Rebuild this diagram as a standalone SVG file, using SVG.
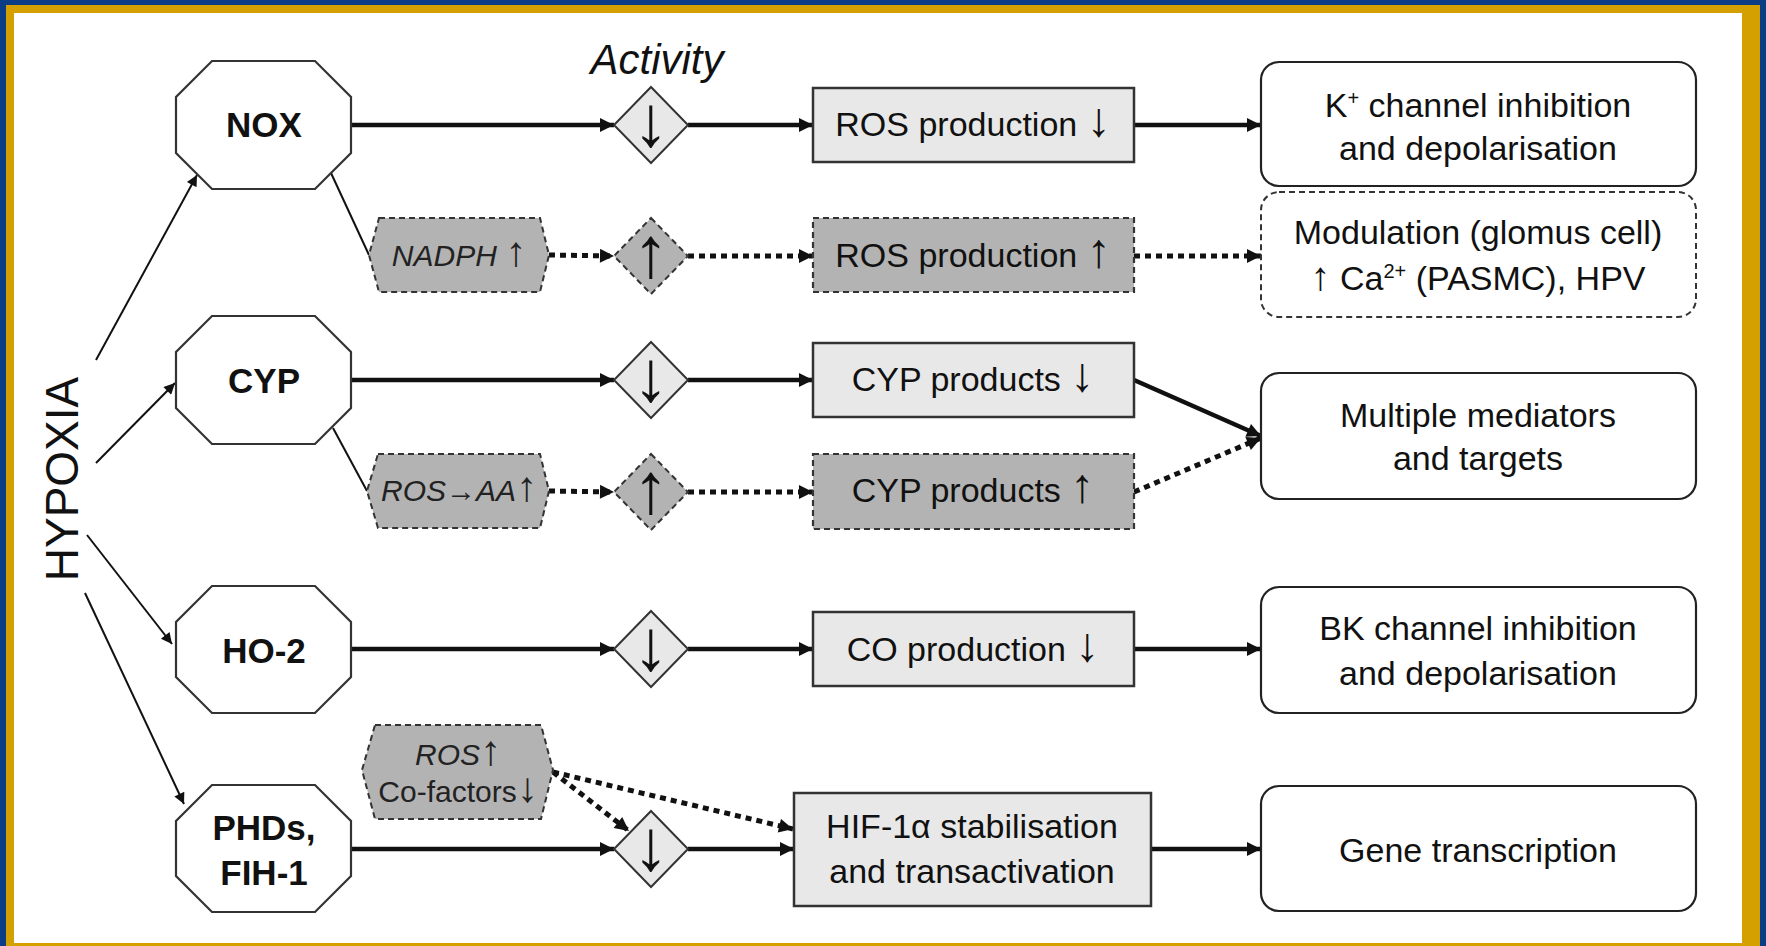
<svg xmlns="http://www.w3.org/2000/svg" width="1766" height="946" viewBox="0 0 1766 946">
<style>
text{font-family:"Liberation Sans",Arial,sans-serif;fill:#111}
.oct{fill:#fff;stroke:#333;stroke-width:2.2}
.lbl{font-weight:bold;font-size:35px;text-anchor:middle}
.dia{fill:#e8e8e8;stroke:#333;stroke-width:2}
.diad{fill:#b3b3b3;stroke:#333;stroke-width:2;stroke-dasharray:6 4}
.box{fill:#e8e8e8;stroke:#333;stroke-width:2.5}
.boxd{fill:#b3b3b3;stroke:#333;stroke-width:2.2;stroke-dasharray:6 4}
.rbox{fill:#fff;stroke:#222;stroke-width:2.2}
.rboxd{fill:#fff;stroke:#333;stroke-width:2;stroke-dasharray:6 4}
.hex{fill:#b3b3b3;stroke:#333;stroke-width:2;stroke-dasharray:6 4}
.mt{font-size:34px;text-anchor:middle}
.rt{font-size:34px;text-anchor:middle}
.gt{font-size:30px;text-anchor:middle;fill:#222}
.ar{font-size:48px}
.ar2{font-size:40px}
.gar{font-size:42px}
.sym{font-size:72px;text-anchor:middle}
.thick{stroke:#111;stroke-width:4.5;fill:none;marker-end:url(#ah)}
.dot{stroke:#111;stroke-width:5;fill:none;stroke-dasharray:6 5;marker-end:url(#ah)}
.thin{stroke:#111;stroke-width:2;fill:none}
.thina{stroke:#111;stroke-width:2;fill:none;marker-end:url(#ahs)}
</style>
<defs>
<marker id="ah" viewBox="0 0 10 10" refX="10" refY="5" markerWidth="17" markerHeight="14" markerUnits="userSpaceOnUse" orient="auto"><path d="M0,0 L10,5 L0,10 z" fill="#111"/></marker>
<marker id="ahs" viewBox="0 0 10 10" refX="10" refY="5" markerWidth="15" markerHeight="11" markerUnits="userSpaceOnUse" orient="auto"><path d="M0,0 L10,5 L0,10 z" fill="#111"/></marker>
</defs>
<rect x="0" y="0" width="1766" height="946" fill="#0a3d85"/>
<rect x="6" y="5" width="1754" height="941" fill="#d4a000"/>
<rect x="14" y="13" width="1728" height="930" fill="#fff"/>

<text x="61" y="0" font-size="46" text-anchor="middle" transform="translate(78,479) rotate(-90) translate(-61,0)">HYPOXIA</text>
<text x="657" y="74" font-size="42" font-style="italic" text-anchor="middle">Activity</text>

<g id="connectors">
<path class="thina" d="M96,360 L197,175"/>
<path class="thina" d="M96,463 L175,383"/>
<path class="thina" d="M87,535 L172,644"/>
<path class="thina" d="M85,593 L184,804"/>
<path class="thin" d="M331,173 L369,255"/>
<path class="thin" d="M333,428 L367,491"/>
<path class="thick" d="M351,125 L614,125"/>
<path class="thick" d="M688,125 L813,125"/>
<path class="thick" d="M1134,125 L1261,125"/>
<path class="dot" d="M549,255 L614,256"/>
<path class="dot" d="M688,256 L813,256"/>
<path class="dot" d="M1134,256 L1261,256"/>
<path class="thick" d="M351,380 L614,380"/>
<path class="thick" d="M688,380 L813,380"/>
<path class="thick" d="M1134,380 L1261,436"/>
<path class="dot" d="M549,491 L614,492"/>
<path class="dot" d="M688,492 L813,492"/>
<path class="dot" d="M1134,492 L1261,438"/>
<path class="thick" d="M351,649 L614,649"/>
<path class="thick" d="M688,649 L813,649"/>
<path class="thick" d="M1134,649 L1261,649"/>
<path class="thick" d="M351,849 L614,849"/>
<path class="thick" d="M688,849 L794,849"/>
<path class="thick" d="M1151,849 L1261,849"/>
<path class="dot" d="M553,772 L629,831"/>
<path class="dot" d="M553,772 L793,829"/>
</g>

<g id="nox"><polygon class="oct" points="212,61 315,61 351,97 351,153 315,189 212,189 176,153 176,97"/><text class="lbl" x="264" y="137">NOX</text></g>
<g id="cyp"><polygon class="oct" points="212,316 315,316 351,352 351,408 315,444 212,444 176,408 176,352"/><text class="lbl" x="264" y="393">CYP</text></g>
<g id="ho2"><polygon class="oct" points="212,586 315,586 351,622 351,677 315,713 212,713 176,677 176,622"/><text class="lbl" x="264" y="663">HO-2</text></g>
<g id="phd"><polygon class="oct" points="212,785 315,785 351,821 351,876 315,912 212,912 176,876 176,821"/><text class="lbl" x="264" y="840">PHDs,</text><text class="lbl" x="264" y="885">FIH-1</text></g>

<g id="nadph"><polygon class="hex" points="379,218 540,218 549,255 540,292 379,292 369,255"/><text class="gt" x="459" y="266"><tspan font-style="italic">NADPH</tspan> <tspan class="gar">↑</tspan></text></g>
<g id="rosaa"><polygon class="hex" points="378,454 540,454 549,491 540,528 378,528 367,491"/><text class="gt" x="459" y="501"><tspan font-style="italic">ROS→AA</tspan><tspan class="gar">↑</tspan></text></g>
<g id="roscof"><polygon class="hex" points="375,725 541,725 553,770 541,819 375,819 362,770"/><text class="gt" x="458" y="765"><tspan font-style="italic">ROS</tspan><tspan class="gar">↑</tspan></text><text class="gt" x="458" y="802">Co-factors<tspan class="gar">↓</tspan></text></g>

<g id="d1"><polygon class="dia" points="651,87 688,125 651,163 614,125"/><text class="sym" x="651" y="146">↓</text></g>
<g id="d2"><polygon class="diad" points="651,218 688,256 651,294 614,256"/><text class="sym" x="651" y="277">↑</text></g>
<g id="d3"><polygon class="dia" points="651,342 688,380 651,418 614,380"/><text class="sym" x="651" y="401">↓</text></g>
<g id="d4"><polygon class="diad" points="651,454 688,492 651,530 614,492"/><text class="sym" x="651" y="513">↑</text></g>
<g id="d5"><polygon class="dia" points="651,611 688,649 651,687 614,649"/><text class="sym" x="651" y="670">↓</text></g>
<g id="d6"><polygon class="dia" points="651,811 688,849 651,887 614,849"/><text class="sym" x="651" y="870">↓</text></g>

<g id="b1"><rect class="box" x="813" y="88" width="321" height="74"/><text class="mt" x="973" y="136">ROS production <tspan class="ar">↓</tspan></text></g>
<g id="b2"><rect class="boxd" x="813" y="218" width="321" height="74"/><text class="mt" x="973" y="267">ROS production <tspan class="ar">↑</tspan></text></g>
<g id="b3"><rect class="box" x="813" y="343" width="321" height="74"/><text class="mt" x="973" y="391">CYP products <tspan class="ar">↓</tspan></text></g>
<g id="b4"><rect class="boxd" x="813" y="454" width="321" height="75"/><text class="mt" x="973" y="502">CYP products <tspan class="ar">↑</tspan></text></g>
<g id="b5"><rect class="box" x="813" y="612" width="321" height="74"/><text class="mt" x="973" y="661">CO production <tspan class="ar">↓</tspan></text></g>
<g id="b6"><rect class="box" x="794" y="793" width="357" height="113"/><text class="mt" x="972" y="838" font-size="35">HIF-1α stabilisation</text><text class="mt" x="972" y="883" font-size="35">and transactivation</text></g>

<g id="r1"><rect class="rbox" x="1261" y="62" width="435" height="124" rx="18"/><text class="rt" x="1478" y="117">K<tspan font-size="20" dy="-12">+</tspan><tspan dy="12"> channel inhibition</tspan></text><text class="rt" x="1478" y="160">and depolarisation</text></g>
<g id="r2"><rect class="rboxd" x="1261" y="192" width="435" height="125" rx="18"/><text class="rt" x="1478" y="244">Modulation (glomus cell)</text><text class="rt" x="1478" y="290"><tspan class="ar2">↑</tspan> Ca<tspan font-size="20" dy="-12">2+</tspan><tspan dy="12"> (PASMC), HPV</tspan></text></g>
<g id="r3"><rect class="rbox" x="1261" y="373" width="435" height="126" rx="18"/><text class="rt" x="1478" y="427">Multiple mediators</text><text class="rt" x="1478" y="470">and targets</text></g>
<g id="r4"><rect class="rbox" x="1261" y="587" width="435" height="126" rx="18"/><text class="rt" x="1478" y="640">BK channel inhibition</text><text class="rt" x="1478" y="685">and depolarisation</text></g>
<g id="r5"><rect class="rbox" x="1261" y="786" width="435" height="125" rx="18"/><text class="rt" x="1478" y="862">Gene transcription</text></g>
</svg>
